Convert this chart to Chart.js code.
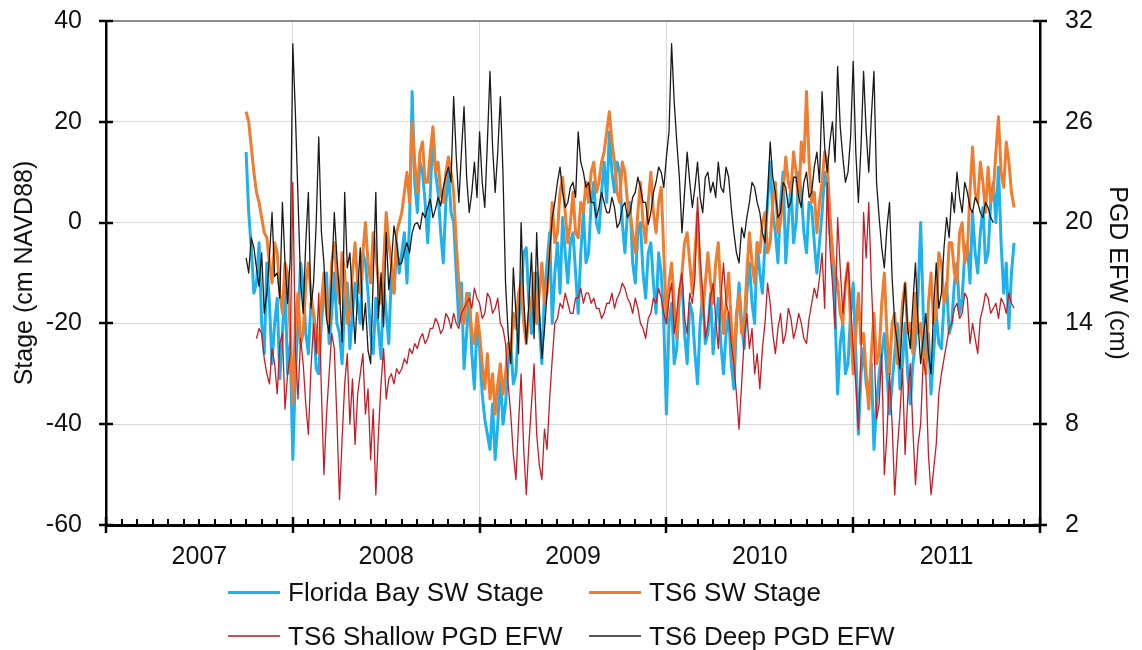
<!DOCTYPE html>
<html>
<head>
<meta charset="utf-8">
<script src="https://cdn.jsdelivr.net/npm/chart.js@4.4.1/dist/chart.umd.min.js"></script>
<style>
  html, body { margin: 0; padding: 0; background: #fff; }
  #wrap { position: relative; width: 1142px; height: 650px; overflow: hidden; }
  #c { position: absolute; left: 0; top: 0; }
  .item { position: absolute; display: flex; align-items: center; height: 30px;
          font-family: "Liberation Sans", Arial, sans-serif; font-size: 26px; color: #111; white-space: nowrap; }
  .sw { width: 52px; margin-right: 8px; }
</style>
</head>
<body>
<div id="wrap">
  <canvas id="c" width="1142" height="650"></canvas>
</div>
<script>
// ---------- data ----------
const yearLabels = ['2007', '2008', '2009', '2010', '2011'];
const stageTicks = [-60, -40, -20, 0, 20, 40];
const pgdTicks = [2, 8, 14, 20, 26, 32];

// Florida Bay SW Stage (cm NAVD88, left axis), ~5-day samples from Oct 2007
const floridaBay = [
  14, 2, -5, -14, -12, -4, -20, -26, -8, -16, -28, -20, -15, -31, -22, -12, -30, -24, -47, -30,
  -20, -8, -12, -22, -26, -16, -18, -29, -30, -20, -14, -10, -24, -18, -10, -20, -22, -28, -16, -12,
  -25, -18, -12, -16, -20, -6, -8, -14, -22, -26, -15, -21, -27, -12, -18, -24, -10, -14, -4, -10,
  -6, -2, -12, 0, 26, 8, 2, 12, 10, 4, -4, 6, 18, 10, 6, -2, -8, 4, 10, 2,
  0, -10, -20, -12, -29, -22, -14, -26, -33, -20, -25, -34, -39, -42, -45, -36, -47, -40, -30, -40,
  -36, -28, -24, -32, -30, -20, -14, -6, -5, -16, -22, -12, -10, -20, -28, -14, -8, -2, -20, -10,
  -4, -14, 1, -6, -12, -4, -2, -10, -18, -6, 2, -8, -6, 4, 8, 0, -2, 6, 12, 4,
  18, 10, 6, 12, 10, 0, -6, 2, 4, -8, -12, -2, 0, -10, -15, -6, -4, -12, -18, -6,
  -10, -20, -38, -20, -16, -28, -25, -14, -12, -22, -28, -16, -18, -26, -32, -20, -14, -24, -22, -14,
  -26, -20, -15, -24, -30, -22, -18, -28, -33, -20, -12, -20, -25, -14, -8, -16, -20, -4, -10, -14,
  -4, 4, 12, 2, -2, -8, 4, 10, -8, 0, 8, -4, 0, 10, 6, -2, -6, 4, 3, -4,
  -10, -4, 2, 10, 7, -2, -5, -18, -34, -24, -20, -30, -28, -18, -12, -26, -42, -30, -25, -32,
  -35, -28, -45, -36, -30, -26, -22, -30, -38, -32, -26, -20, -33, -28, -20, -30, -36, -28, -24, -14,
  0, -18, -28, -22, -34, -26, -18, -24, -25, -16, -12, -22, -20, -12, -8, -18, -15, -6, -4, -12,
  2, -6, -10, -2, 3, -8, -6, 4, 8, 0, 11, -4, -14, -8, -21, -10, -4
];

// TS6 SW Stage (cm NAVD88, left axis)
const ts6Stage = [
  22, 20, 15, 10, 6, 4, 1, -2, -3, -8, -12, -4, -6, -14, -18, -8, -10, -22, -36, -20,
  -14, -24, -22, -12, -8, -14, -18, -22, -26, -16, -10, -18, -20, -8, -4, -12, -16, -6, -10, -20,
  -18, -10, -4, -12, -14, -6, 0, -8, -12, -2, -6, -12, -16, -8, 2, -4, -8, -14, -2, 0,
  2, 6, 10, 4, 20, 12, 6, 14, 16, 8, 8, 14, 19, 10, 12, 6, 4, 10, 13, 10,
  6, -4, -12, -18, -20, -14, -15, -22, -24, -18, -22, -28, -33, -26, -35, -30, -38, -32, -28, -34,
  -30, -24, -26, -18, -21, -14, -12, -20, -24, -18, -16, -10, -20, -14, -8, -16, -14, -6, 4, -4,
  -2, 6, 9, 2, -4, 0, 6, -2, -3, 4, 2, 8, 4, 10, 12, 6, 8, 12, 14, 18,
  22, 16, 12, 6, 4, 12, 10, 4, 2, -2, -6, 2, 8, 0, -4, 4, 10, 2, -2, 4,
  7, -6, -20, -12, -8, -16, -23, -14, -10, -4, -2, -8, -14, -6, 2, -10, -18, -12, -6, -12,
  -16, -8, -4, -14, -22, -16, -10, -20, -28, -18, -14, -22, -20, -10, -2, -8, -12, -4, -6, 0,
  2, -6, -4, 4, 8, -2, 0, 6, 13, 8, 6, 14, 10, 4, 16, 12, 26, 12, 4, 6,
  -2, 4, 8, 14, 12, 2, -6, -10, -12, -18, -20, -12, -8, -20, -30, -22, -14, -24, -22, -30,
  -37, -26, -18, -28, -26, -16, -10, -22, -30, -20, -18, -28, -24, -16, -12, -22, -20, -26, -14, -22,
  -20, -26, -30, -16, -10, -20, -18, -6, -8, -16, -14, -4, -4, -10, -12, -2, 0, -8, -6, 6,
  15, 6, 4, 12, 8, 2, 11, 4, 6, 14, 21, 10, 7, 16, 12, 6, 3
];

// TS6 Shallow PGD EFW (cm, right axis)
const ts6Shallow = [
  null, null, null, null, 13.1, 13.7, 13.4, 11.9, 11, 10.4, 12.5, 11.6, 9.8, 12.8, 13.4, 8.9, 11, 12.2, 22.4, 12.5,
  9.5, 13.1, 11.6, 9.2, 7.4, 11.3, 14, 12.2, 15.8, 10.1, 5, 8.6, 11, 13.4, 12.5, 8.3, 3.5, 7.1, 10.4, 12.2,
  8, 10.7, 6.8, 9.8, 11, 12.2, 8.6, 10.1, 5.9, 8.9, 3.8, 7.4, 10.4, 12.5, 9.5, 10.7, 11, 10.4, 11.3, 11,
  11.3, 11.9, 11.6, 12.5, 12.2, 12.8, 12.5, 13.1, 13.4, 12.8, 13.1, 13.7, 13.7, 14.3, 14, 13.4, 13.7, 14.6, 14.3, 13.7,
  14.6, 14, 13.7, 14.6, 14.9, 15.2, 15.5, 14.9, 16.1, 15.5, 15.2, 14.3, 14.6, 15.8, 15.5, 14.6, 14.9, 15.5, 14, 13.7,
  12.8, 10.4, 8.6, 6.2, 4.7, 8, 11, 6.5, 3.8, 6.8, 9.2, 11.6, 7.4, 5.6, 4.7, 7.7, 6.5, 9.5, 11.9, 14,
  14.3, 15.2, 14.9, 15.8, 15.2, 14.6, 14.6, 15.5, 15.5, 16.1, 15.2, 15.8, 15.8, 15.2, 15.5, 14.9, 14.9, 14.3, 14.6, 15.2,
  15.2, 15.8, 14.9, 15.5, 15.8, 16.4, 16.1, 15.5, 15.2, 14.6, 15.5, 14.9, 14, 13.7, 13.1, 14.3, 14.6, 15.5, 15.2, 16.1,
  15.5, 14.6, 14, 15.5, 16.4, 13.4, 14.6, 16.1, 17, 14.3, 13.4, 15.8, 15.2, 16.7, 21.5, 17.9, 15.8, 13.1, 14, 15.5,
  16.4, 14.3, 12.5, 15.5, 17.6, 15.2, 14.6, 12.8, 11.6, 9.8, 7.7, 10.4, 13.1, 14.6, 12.5, 13.7, 11, 12.2, 10.1, 12.5,
  14, 16.4, 15.2, 13.4, 12.2, 13.7, 14.6, 12.8, 13.4, 14.9, 14.3, 13.1, 13.7, 14.6, 14, 13.1, 12.8, 14.3, 15.2, 16.1,
  15.5, 16.7, 18.2, 14.9, 22.4, 18.5, 16.4, 13.7, 20.3, 17.3, 14.6, 16.4, 17.6, 15.2, 12.5, 10.4, 7.7, 12.2, 20.6, 17.9,
  21.2, 16.4, 12.8, 8.3, 9.2, 12.2, 5, 7.4, 11, 8, 3.8, 6.5, 8.6, 11.3, 6.2, 9.5, 11.6, 7.7, 4.4, 6.8,
  8, 11.9, 11, 6.2, 3.8, 5.3, 6.8, 9.8, 11, 11.9, 12.8, 13.7, 14, 14.9, 15.2, 14.3, 14.6, 15.8, 15.5, 12.8,
  14, 13.1, 12.2, 14.3, 14.9, 15.8, 15.5, 14.6, 14.9, 15.2, 14.3, 15.5, 15.2, 14.6, 15.8, 15.2, 14.9
];

// TS6 Deep PGD EFW (cm, right axis)
const ts6Deep = [
  17.9, 17, 19.1, 18.5, 17.3, 16.2, 18.2, 14.6, 15.8, 18, 20.6, 16.8, 17, 15.5, 21.2, 17.6, 15.2, 17.8, 30.65, 26.5,
  21.5, 16.5, 14.6, 18.8, 21.8, 14.9, 16.4, 19.9, 25.1, 19.5, 17.6, 14.3, 13.4, 16.8, 20.6, 17.9, 15.8, 12.9, 21.8, 17.3,
  18.2, 15.5, 12.8, 15.8, 18.5, 13.6, 15.2, 12.4, 11.6, 16.7, 21.8, 14.3, 17, 13.8, 19.4, 16, 17.6, 19.8, 18.8, 17.5,
  17.6, 18.3, 18.8, 18.2, 19.4, 19.9, 20, 19.6, 20.6, 20.3, 20.9, 21.4, 20.3, 20.8, 21.5, 21, 22.1, 22.8, 23.3, 22.4,
  27.5, 23.9, 21.2, 24.2, 26.9, 22.7, 20.6, 21.8, 23.6, 21.5, 25.4, 22.4, 20.9, 24.8, 29, 24.5, 21.8, 24.2, 27.5, 23,
  16.4, 13.4, 11.6, 17.3, 14.6, 12.2, 20, 15.5, 12.8, 15.2, 18.2, 13.1, 19.4, 14.9, 11.9, 13.6, 15.8, 18.2, 20.3, 21.2,
  22.4, 23.3, 21.8, 20.9, 21.2, 22.1, 22.4, 21.5, 25.4, 23.6, 23, 22.1, 22.4, 21.2, 21.2, 20.3, 20.9, 21.8, 21.2, 20.6,
  20.6, 21.5, 20.9, 19.7, 20, 20.9, 21.2, 20.3, 20.6, 21.5, 21.8, 22.7, 22.1, 21.2, 21.2, 19.9, 20.6, 21.8, 22.4, 23.3,
  23, 22.1, 23.9, 25.4, 30.65, 27.2, 24.8, 22.7, 19.4, 21.8, 24.2, 22.4, 20.9, 22.1, 23.6, 21.5, 20.6, 22.7, 23, 21.8,
  22.4, 21.5, 23.6, 22.1, 21.8, 23.3, 22.7, 20.9, 19.4, 18.2, 17.6, 19.7, 19.1, 20.3, 21.2, 22.4, 22.1, 21.2, 20.6, 19.4,
  18.8, 21.5, 24.8, 22.7, 21.8, 20.3, 20.6, 22.4, 22.1, 20.9, 21.2, 22.7, 22.7, 21.5, 20.9, 22.4, 23, 21.5, 21.8, 23.3,
  24.2, 22.4, 27.8, 24.5, 23, 24.8, 26, 23.6, 29.3, 25.7, 23.9, 22.4, 23, 25.1, 29.6, 24.2, 21.2, 24.5, 29, 25.4,
  23, 26.3, 29, 22.4, 20.3, 18.5, 17.3, 19.7, 21.2, 16.7, 14, 12.8, 11.3, 14.3, 16.4, 13.7, 12.5, 15.2, 17.6, 14,
  11.6, 13.1, 14.6, 12.2, 11, 14.9, 17.6, 14.9, 15.8, 18.5, 20.3, 19.1, 21.8, 20.6, 23, 21.5, 20.6, 22.4, 21.8, 20.9,
  20.6, 21.5, 21.2, 20.6, 20.3, 21.2, 20.9, 20.3, 20, null, null, null, null, null, null, null, null
];

const seriesNames = ['Florida Bay SW Stage', 'TS6 SW Stage', 'TS6 Shallow PGD EFW', 'TS6 Deep PGD EFW'];

// sampling dates (decimal years): regular ~5-day grid from late Sept 2007
const startYear = 2007.75;
const stepYears = 1 / 72;
const dates = floridaBay.map((_, i) => +(startYear + i * stepYears).toFixed(5));

// ---------- helpers ----------
const FONT = '"Liberation Sans", Arial, sans-serif';
const TEXT = '#111';
const monthTicks = Array.from({ length: 61 }, (_, m) => 2007 + m / 12);
const isYear = v => Math.abs(v - Math.round(v)) < 1e-6;
const isMid = v => Math.abs(v - Math.floor(v) - 0.5) < 1e-6;
const pts = arr => arr.map((v, i) => ({ x: dates[i], y: v }));

Chart.defaults.font.family = FONT;

const tickMarks = {
  id: 'tickMarks',
  afterDraw(chart) {
    const { ctx, chartArea: a, scales } = chart;
    ctx.save();
    ctx.strokeStyle = '#000';
    scales.x.ticks.forEach(t => {
      const px = Math.round(scales.x.getPixelForValue(t.value));
      const major = isYear(t.value);
      ctx.lineWidth = major ? 2.5 : 2;
      ctx.beginPath();
      ctx.moveTo(px, major ? a.bottom - 8 : a.bottom - 6);
      ctx.lineTo(px, major ? a.bottom + 8 : a.bottom);
      ctx.stroke();
    });
    ctx.lineWidth = 2.5;
    scales.y.ticks.forEach(t => {
      const py = Math.round(scales.y.getPixelForValue(t.value));
      ctx.beginPath(); ctx.moveTo(a.left - 7, py); ctx.lineTo(a.left + 7, py); ctx.stroke();
    });
    scales.y2.ticks.forEach(t => {
      const py = Math.round(scales.y2.getPixelForValue(t.value));
      ctx.beginPath(); ctx.moveTo(a.right - 7, py); ctx.lineTo(a.right + 7, py); ctx.stroke();
    });
    ctx.restore();
  }
};

const colors = ['#1EB1EC', '#EF7D30', '#C41E24', '#1A1A1A'];

const chart = new Chart(document.getElementById('c'), {
  type: 'line',
  data: {
    datasets: [
      { label: seriesNames[0], data: pts(floridaBay), yAxisID: 'y', borderColor: colors[0], borderWidth: 3, order: 3 },
      { label: seriesNames[1], data: pts(ts6Stage), yAxisID: 'y', borderColor: colors[1], borderWidth: 3, order: 2 },
      { label: seriesNames[2], data: pts(ts6Shallow), yAxisID: 'y2', borderColor: colors[2], borderWidth: 1.3, order: 1 },
      { label: seriesNames[3], data: pts(ts6Deep), yAxisID: 'y2', borderColor: colors[3], borderWidth: 1.3, order: 0 }
    ].map(d => Object.assign(d, { pointRadius: 0, tension: 0, fill: false, spanGaps: false, borderJoinStyle: 'round' }))
  },
  options: {
    responsive: false,
    animation: false,
    devicePixelRatio: 1,
    layout: { padding: { top: 21, left: 0, right: 0, bottom: 0 } },
    plugins: { legend: { display: false }, tooltip: { enabled: false } },
    scales: {
      x: {
        type: 'linear', position: 'bottom', min: 2007, max: 2012,
        afterBuildTicks: s => { s.ticks = monthTicks.map(v => ({ value: v })); },
        afterFit: s => { s.height = 125; s.paddingLeft = 0; s.paddingRight = 0; },
        grid: {
          color: c => (c.tick && isYear(c.tick.value)) ? '#d9d9d9' : 'rgba(0,0,0,0)',
          lineWidth: 1, drawTicks: false
        },
        border: { color: '#000', width: 3 },
        ticks: {
          autoSkip: false, maxRotation: 0, minRotation: 0, padding: 17,
          font: { size: 25 }, color: TEXT,
          callback: v => isMid(v) ? yearLabels[Math.floor(v) - 2007] : ''
        }
      },
      y: {
        type: 'linear', position: 'left', min: -60, max: 40,
        afterBuildTicks: s => { s.ticks = stageTicks.map(v => ({ value: v })); },
        afterFit: s => { s.width = 106; s.paddingTop = 0; s.paddingBottom = 0; },
        grid: {
          color: c => (c.tick && c.tick.value === 40) ? '#8c8c8c' : '#d9d9d9',
          lineWidth: c => (c.tick && c.tick.value === 40) ? 2 : 1,
          drawTicks: false
        },
        border: { color: '#000', width: 2.5 },
        ticks: { padding: 24, font: { size: 25 }, color: TEXT },
        title: { display: true, text: 'Stage (cm NAVD88)', font: { size: 25 }, color: TEXT, padding: { top: 10, bottom: 0 } }
      },
      y2: {
        type: 'linear', position: 'right', min: 2, max: 32,
        afterBuildTicks: s => { s.ticks = pgdTicks.map(v => ({ value: v })); },
        afterFit: s => { s.width = 102; s.paddingTop = 0; s.paddingBottom = 0; },
        grid: { drawOnChartArea: false, drawTicks: false },
        border: { color: '#000', width: 2.5 },
        ticks: { padding: 25, font: { size: 25 }, color: TEXT },
        title: { display: true, text: 'PGD EFW (cm)', font: { size: 25 }, color: TEXT, padding: { top: 10, bottom: 0 } }
      }
    }
  },
  plugins: [tickMarks]
});

// ---------- legend (HTML, two columns) ----------
const legendPos = [[228, 577], [589, 577], [228, 621], [589, 621]];
const legendThick = [3, 3, 2, 2];
const legendColors = ['#1EB1EC', '#EF7D30', '#C8504F', '#555555'];
const wrap = document.getElementById('wrap');
seriesNames.forEach((name, i) => {
  const it = document.createElement('div');
  it.className = 'item';
  it.style.left = legendPos[i][0] + 'px';
  it.style.top = legendPos[i][1] + 'px';
  const sw = document.createElement('span');
  sw.className = 'sw';
  sw.style.height = legendThick[i] + 'px';
  sw.style.background = legendColors[i];
  const tx = document.createElement('span');
  tx.textContent = name;
  it.appendChild(sw); it.appendChild(tx);
  wrap.appendChild(it);
});
</script>
</body>
</html>
